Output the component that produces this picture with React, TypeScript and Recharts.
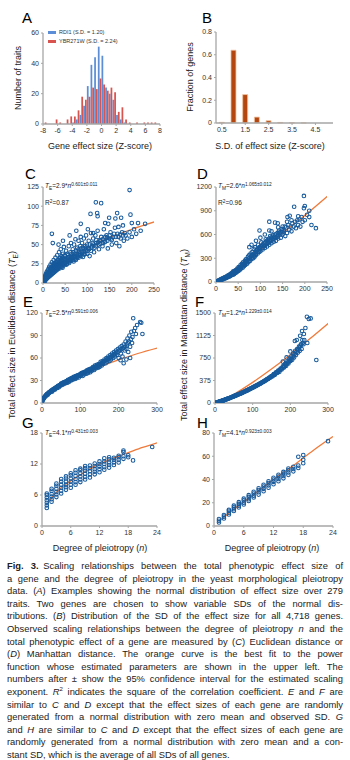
import React from "react";
import {
  BarChart,
  Bar,
  ComposedChart,
  Scatter,
  Line,
  XAxis,
  YAxis,
} from "recharts";

const FONT = '"Liberation Sans", Arial, sans-serif';
const AXIS = "#a6a6a6";
const TEXT = "#333";
const DOT = "#175a9c";
const FIT = "#f07a3a";

// ---- A: effect size histograms (bin centres, counts)
const zCenters = [
  -7.75, -7.25, -6.75, -6.25, -5.75, -5.25, -4.75, -4.25, -3.75, -3.25, -2.75,
  -2.25, -1.75, -1.25, -0.75, -0.25, 0.25, 0.75, 1.25, 1.75, 2.25, 2.75, 3.25,
  3.75, 4.25, 4.75, 5.25, 5.75, 6.25, 6.75, 7.25, 7.75,
];
const rdi1 = [
  0, 0, 0, 0, 0, 0, 0, 0, 1, 3, 6, 12, 25, 39, 44, 51, 45, 24, 20, 16, 6, 3, 1,
  0, 0, 0, 0, 0, 0, 0, 0, 0,
];
const ybr271w = [
  1, 0, 0, 3, 1, 0, 3, 5, 5, 9, 18, 16, 18, 24, 23, 30, 26, 22, 24, 21, 8, 11, 3,
  1, 0, 1, 0, 1, 1, 1, 1, 0,
];
const zTicks = [-8, -6, -4, -2, 0, 2, 4, 6, 8];
const countTicks = [0, 20, 40, 60];

// ---- B: SD distribution
const sdBins = ["0.5", "1", "1.5", "2", "2.5", "3", "3.5", "4", "4.5", "5"];
const sdFraction = [0.006, 0.64, 0.25, 0.052, 0.02, 0.005, 0.002, 0.001, 0, 0];
const fracTicks = [0, 0.2, 0.4, 0.6, 0.8];

// ---- C: observed, Euclidean
const cPts: [number, number][] = [
  [1, 1], [1, 3], [2, 2], [2, 5], [3, 3], [3, 6], [4, 4], [4, 8], [5, 5], [5, 9],
  [6, 6], [6, 11], [7, 7], [7, 12], [8, 8], [8, 14], [9, 7], [9, 12], [10, 9],
  [10, 16], [11, 10], [12, 13], [12, 18], [13, 11], [14, 15], [14, 21], [15, 12],
  [15, 19], [16, 17], [17, 14], [17, 24], [18, 19], [19, 16], [20, 21], [20, 27],
  [21, 13], [22, 24], [23, 18], [24, 30], [25, 22], [26, 16], [27, 26], [28, 33],
  [29, 20], [30, 28], [31, 24], [32, 36], [33, 18], [34, 30], [35, 26], [36, 40],
  [37, 22], [38, 33], [39, 28], [40, 44], [41, 25], [42, 35], [43, 30], [44, 20],
  [45, 38], [46, 32], [47, 47], [48, 27], [49, 36], [50, 30], [52, 42], [53, 24],
  [55, 38], [57, 33], [58, 48], [60, 28], [62, 40], [63, 52], [65, 35], [67, 44],
  [68, 30], [70, 50], [72, 38], [73, 57], [75, 32], [77, 46], [78, 42], [80, 55],
  [82, 36], [84, 48], [85, 60], [87, 41], [88, 52], [90, 34], [92, 58], [94, 45],
  [95, 38], [97, 62], [99, 50], [100, 42], [103, 55], [105, 35], [108, 65],
  [110, 48], [113, 58], [115, 40], [118, 62], [120, 52], [123, 68], [126, 44],
  [128, 56], [131, 60], [134, 48], [137, 70], [140, 54], [143, 62], [146, 45],
  [149, 58], [152, 66], [155, 50], [158, 60], [162, 72], [165, 52], [168, 64],
  [172, 48], [175, 58], [178, 66], [182, 55], [186, 62], [190, 58], [195, 66],
  [200, 60], [205, 70], [210, 64], [220, 68], [195, 121], [119, 105], [131, 104],
  [122, 91], [123, 87], [107, 90], [167, 91], [149, 85], [197, 89], [85, 77],
  [147, 77], [163, 84], [176, 85], [200, 78], [214, 78], [20, 64], [22, 52],
  [101, 70], [113, 65], [170, 73], [60, 62], [75, 68], [45, 55], [35, 50],
  [140, 78], [180, 75], [230, 77],
  [2, 3], [3, 4], [4, 6], [5, 7], [6, 8], [7, 9], [8, 10], [9, 11], [10, 12],
  [11, 13], [12, 11], [13, 14], [14, 12], [15, 16], [16, 14], [17, 18], [18, 15],
  [19, 20], [20, 17], [21, 19], [22, 16], [23, 22], [24, 19], [25, 25], [26, 20],
  [27, 23], [28, 18], [29, 25], [30, 21], [31, 28], [32, 22], [33, 25], [34, 21],
  [35, 30], [36, 24], [37, 28], [38, 24], [39, 32], [40, 27], [42, 30], [43, 25],
  [44, 33], [46, 28], [48, 31], [50, 35], [51, 26], [53, 32], [55, 28], [56, 36],
  [58, 30], [60, 34], [62, 30], [64, 38], [66, 33], [68, 40], [70, 35], [72, 32],
  [74, 42], [76, 37], [78, 34], [80, 44], [82, 40], [84, 36], [86, 45], [88, 38],
  [90, 46], [92, 40], [95, 48], [98, 44], [102, 45], [105, 50], [108, 42],
  [112, 52], [116, 46], [120, 56], [125, 50], [130, 55], [135, 52], [140, 60],
  [145, 55], [150, 62], [155, 56], [160, 64], [170, 60], [180, 62],
  [3, 2], [5, 3], [7, 5], [9, 6], [11, 7], [13, 8], [15, 9], [17, 10], [19, 11],
  [21, 12], [23, 13], [25, 14], [27, 15], [29, 16], [31, 17], [33, 19], [35, 20],
  [37, 19], [39, 21], [41, 22], [43, 21], [45, 24], [47, 23], [49, 25], [52, 27],
  [54, 25], [57, 28], [59, 26], [61, 31], [64, 29], [67, 32], [69, 28], [71, 34],
  [74, 30], [77, 35], [80, 33], [83, 38], [86, 35], [89, 40], [93, 37], [96, 42],
  [100, 38], [104, 44], [109, 46], [114, 50], [119, 48], [124, 53], [129, 51],
  [134, 57], [139, 53], [144, 59], [154, 58], [164, 60], [174, 63], [184, 65],
];
const cFit: [number, number][] = [
  [1, 3], [3, 5.8], [6, 8.9], [10, 11.5], [20, 17.4], [35, 24.4], [50, 30],
  [75, 38], [100, 46], [150, 59], [200, 70], [253, 80],
];

// ---- D: observed, Manhattan
const dPts: [number, number][] = [
  [2, 5], [3, 8], [5, 12], [6, 18], [8, 20], [9, 26], [10, 28], [12, 30],
  [13, 38], [15, 36], [16, 46], [18, 42], [19, 55], [20, 48], [22, 60], [23, 52],
  [25, 70], [26, 62], [28, 80], [29, 68], [30, 88], [32, 75], [33, 100], [35, 85],
  [36, 110], [38, 92], [40, 125], [41, 100], [42, 140], [44, 115], [45, 150],
  [47, 125], [48, 170], [50, 140], [51, 190], [53, 150], [55, 210], [56, 170],
  [58, 230], [60, 180], [61, 250], [63, 200], [65, 270], [66, 215], [68, 290],
  [70, 230], [72, 320], [73, 250], [75, 340], [77, 270], [78, 360], [80, 290],
  [82, 380], [84, 300], [85, 420], [87, 320], [88, 440], [90, 340], [92, 400],
  [94, 360], [95, 470], [97, 380], [99, 430], [100, 390], [102, 500], [105, 410],
  [107, 460], [110, 430], [112, 540], [115, 450], [118, 500], [120, 470],
  [122, 580], [125, 490], [128, 540], [130, 510], [133, 600], [135, 520],
  [138, 570], [140, 550], [143, 620], [146, 560], [150, 600], [153, 640],
  [156, 580], [160, 620], [165, 660], [170, 640], [175, 700], [180, 680],
  [185, 720], [190, 700], [195, 760], [200, 780], [210, 820], [198, 1087],
  [198, 933], [176, 950], [200, 960], [166, 837], [161, 820], [120, 762],
  [133, 750], [139, 741], [120, 650], [98, 650], [110, 600], [125, 640],
  [100, 560], [90, 520], [80, 470], [75, 440], [140, 690], [150, 700],
  [160, 760], [170, 780], [185, 830], [215, 720], [225, 680], [210, 900],
  [5, 15], [8, 25], [11, 33], [14, 42], [17, 50], [20, 58], [24, 72], [27, 82],
  [31, 95], [34, 105], [37, 118], [39, 135], [43, 128], [46, 140], [49, 160],
  [52, 170], [54, 185], [57, 195], [59, 210], [62, 225], [64, 240], [67, 255],
  [69, 265], [71, 280], [74, 295], [76, 305], [79, 320], [81, 335], [83, 345],
  [86, 360], [89, 380], [91, 395], [93, 410], [96, 420], [98, 440], [101, 450],
  [104, 460], [106, 480], [109, 490], [111, 500], [114, 520], [117, 530],
  [119, 545], [121, 520], [124, 560], [127, 570], [129, 590], [132, 570],
  [136, 610], [139, 620], [142, 650], [145, 630], [148, 670], [152, 660],
  [155, 700], [158, 690], [163, 720], [168, 700], [172, 740], [178, 760],
  [183, 780], [188, 790], [193, 820], [205, 850],
  [10, 22], [15, 32], [20, 45], [25, 58], [30, 72], [35, 90], [40, 108],
  [45, 125], [50, 150], [55, 165], [60, 195], [65, 220], [70, 250], [75, 270],
  [80, 300], [85, 330], [90, 355], [95, 385], [100, 410], [105, 430], [110, 455],
  [115, 480], [120, 500], [125, 520], [130, 550], [135, 560], [140, 590],
  [145, 600], [150, 630],
];
const dFit: [number, number][] = [
  [0, 0], [10, 30], [25, 90], [50, 192], [100, 404], [150, 620], [200, 840],
  [252, 1087],
];

// ---- E: simulated (observed SD), Euclidean
const ePts: [number, number][] = [
  [1, 2.5], [2, 4], [3, 5], [4, 6], [5, 6.5], [6, 7.5], [7, 8], [8, 9], [9, 9],
  [10, 10], [12, 10], [13, 12], [15, 11], [16, 13], [18, 13], [20, 14], [22, 15],
  [24, 16], [26, 15], [28, 18], [30, 17], [32, 19], [34, 18], [36, 20], [38, 21],
  [40, 20], [42, 23], [44, 21], [46, 24], [48, 23], [50, 26], [52, 24], [54, 27],
  [56, 25], [58, 28], [60, 26], [63, 29], [66, 27], [68, 31], [70, 28], [73, 32],
  [76, 30], [78, 33], [80, 31], [83, 35], [86, 32], [88, 36], [90, 33], [93, 37],
  [96, 34], [98, 38], [100, 36], [103, 40], [106, 36], [108, 41], [110, 38],
  [113, 42], [116, 39], [118, 44], [120, 40], [123, 45], [126, 41], [128, 46],
  [130, 43], [133, 48], [136, 44], [138, 50], [140, 46], [143, 51], [146, 47],
  [148, 52], [150, 48], [153, 55], [156, 50], [158, 56], [160, 52], [163, 58],
  [166, 53], [168, 60], [170, 55], [173, 62], [176, 56], [178, 64], [180, 58],
  [183, 66], [186, 60], [188, 68], [190, 62], [193, 70], [196, 64], [198, 72],
  [200, 60], [203, 74], [206, 66], [208, 76], [210, 62], [213, 78], [216, 70],
  [218, 82], [220, 72], [223, 86], [225, 68], [228, 90], [230, 75], [233, 95],
  [235, 80], [238, 113], [240, 96], [243, 100], [245, 92], [248, 104],
  [256, 108], [259, 107], [262, 92], [213, 53], [205, 57], [220, 58], [230, 60],
  [11, 11], [14, 12], [17, 13.5], [19, 14.5], [21, 15], [23, 16], [25, 17],
  [27, 17], [29, 18], [31, 18.5], [33, 19.5], [35, 20], [37, 21], [39, 21.5],
  [41, 22], [43, 22.5], [45, 23], [47, 24], [49, 25], [51, 25.5], [53, 26],
  [55, 26.5], [57, 27], [59, 27.5], [61, 28], [62, 27], [64, 29], [65, 28.5],
  [67, 30], [69, 30], [71, 31], [72, 30], [74, 31.5], [75, 32.5], [77, 32],
  [79, 33.5], [81, 33], [82, 34], [84, 34], [85, 33], [87, 35], [89, 35],
  [91, 36], [92, 35], [94, 36.5], [95, 37], [97, 37], [99, 38], [101, 38],
  [102, 37], [104, 39], [105, 40], [107, 39.5], [109, 40], [111, 41], [112, 40],
  [114, 41.5], [115, 42], [117, 42], [119, 43], [121, 43], [122, 42], [124, 44],
  [125, 45], [127, 44], [129, 45], [131, 46], [132, 45], [134, 47], [135, 46],
  [137, 48], [139, 47], [141, 49], [142, 48], [144, 50], [145, 49], [147, 50],
  [149, 51], [151, 52], [152, 50], [154, 53], [157, 53], [159, 54], [161, 55],
  [164, 56], [167, 57], [169, 58], [171, 59], [174, 58], [177, 60], [179, 61],
  [181, 62], [184, 62], [187, 64], [189, 65], [191, 66], [194, 66], [197, 68],
  [201, 70], [204, 70], [207, 72], [211, 73], [214, 74], [217, 75], [221, 78],
  [224, 80], [227, 82], [232, 85], [236, 88],
];
const eFit: [number, number][] = [
  [1, 2.5], [3, 4.6], [6, 7], [10, 9.7], [20, 14.7], [35, 20.4], [50, 25.3],
  [75, 32], [100, 38], [150, 48.5], [200, 57.6], [250, 66], [302, 73.5],
];

// ---- F: simulated (observed SD), Manhattan
const fPts: [number, number][] = [
  [2, 3], [4, 6], [6, 10], [8, 13], [10, 18], [12, 22], [14, 28], [16, 30],
  [18, 36], [20, 40], [22, 42], [24, 50], [26, 52], [28, 60], [30, 62], [33, 70],
  [36, 76], [39, 84], [42, 90], [45, 100], [48, 105], [51, 114], [54, 122],
  [57, 128], [60, 140], [63, 145], [66, 155], [69, 160], [72, 172], [75, 178],
  [78, 190], [81, 196], [84, 208], [87, 214], [90, 228], [93, 232], [96, 245],
  [99, 252], [102, 265], [105, 270], [108, 285], [111, 290], [114, 305],
  [117, 312], [120, 325], [123, 332], [126, 348], [129, 355], [132, 370],
  [135, 378], [138, 395], [141, 400], [144, 420], [147, 425], [150, 450],
  [153, 445], [156, 480], [159, 470], [162, 510], [165, 500], [168, 540],
  [171, 520], [174, 575], [177, 560], [180, 610], [183, 590], [186, 650],
  [189, 620], [192, 690], [195, 660], [198, 740], [200, 700], [203, 780],
  [205, 720], [208, 830], [210, 760], [213, 870], [215, 800], [218, 900],
  [220, 840], [223, 940], [225, 870], [228, 980], [232, 1050], [244, 1438],
  [249, 1400], [254, 1410], [269, 717], [212, 1033], [217, 1050], [231, 1200],
  [226, 1120], [236, 1150], [240, 1250], [200, 860], [190, 760], [180, 690],
  [230, 900], [235, 980], [245, 1000],
  [3, 4], [5, 8], [7, 11], [9, 15], [11, 20], [13, 24], [15, 28], [17, 33],
  [19, 38], [21, 40], [23, 45], [25, 50], [27, 55], [29, 58], [31, 65], [34, 72],
  [37, 78], [40, 86], [43, 95], [46, 102], [49, 110], [52, 118], [55, 124],
  [58, 133], [61, 140], [64, 150], [67, 156], [70, 166], [73, 174], [76, 184],
  [79, 192], [82, 202], [85, 210], [88, 220], [91, 230], [94, 240], [97, 248],
  [100, 258], [103, 268], [106, 280], [109, 286], [112, 298], [115, 308],
  [118, 318], [121, 328], [124, 340], [127, 350], [130, 362], [133, 374],
  [136, 385], [139, 398], [142, 410], [145, 422], [148, 436], [151, 450],
  [154, 462], [157, 476], [160, 490], [163, 505], [166, 520], [169, 535],
  [172, 550], [175, 565], [178, 580], [181, 600], [184, 615], [187, 635],
  [190, 650], [193, 670], [196, 690], [199, 710], [202, 735], [206, 760],
  [209, 790], [212, 820], [216, 850], [219, 880], [222, 905], [226, 940],
  [229, 970], [233, 1000], [237, 1050],
];
const fFit: [number, number][] = [
  [0, 0], [10, 20], [25, 62], [50, 146], [100, 344], [150, 566], [200, 806],
  [250, 1061], [303, 1340],
];

// ---- G / H: simulated (constant SD), columns by degree of pleiotropy
const gCols: [number, number[]][] = [
  [1, [3.5, 4, 4.5, 5, 5.5, 6, 6.3]],
  [2, [4.7, 5.2, 5.7, 6.2, 6.8, 7.2]],
  [3, [5.6, 6.1, 6.6, 7.2, 7.8, 8.2]],
  [4, [6.3, 6.8, 7.4, 8, 8.6, 9.1]],
  [5, [7, 7.5, 8, 8.6, 9.2, 9.6]],
  [6, [7.4, 8, 8.6, 9.2, 9.8, 10.2]],
  [7, [8, 8.5, 9.1, 9.7, 10.3, 10.8]],
  [8, [8.5, 9, 9.6, 10.2, 10.8, 11.1]],
  [9, [9, 9.5, 10.1, 10.7, 11.2, 11.6]],
  [10, [9.4, 10, 10.6, 11.2, 11.7]],
  [11, [10, 10.5, 11, 11.6, 12.1]],
  [12, [10.4, 11, 11.5, 12, 12.5]],
  [13, [10.9, 11.4, 12, 12.5, 13.1]],
  [14, [11.3, 11.8, 12.3, 12.9, 13.3]],
  [15, [11.8, 12.3, 12.8, 13.2]],
  [16, [12.3, 12.8, 13.3, 13.6]],
  [17, [13, 13.5, 14.3, 14.6]],
  [18, [13.3, 13.7]],
  [19, [12.7]],
  [23, [15.3]],
];
const gFit: [number, number][] = [
  [1, 4.1], [2, 5.5], [3, 6.5], [4, 7.4], [6, 8.7], [8, 9.9], [10, 11.1],
  [12, 12], [15, 13.2], [18, 14.2], [21, 15.2], [24, 16.1],
];
const hCols: [number, number[]][] = [
  [1, [3, 4.5, 6]],
  [2, [6.5, 8, 9.5]],
  [3, [10, 11.5, 13, 14]],
  [4, [13, 14.5, 16, 17.5]],
  [5, [16, 17.5, 19, 20.5]],
  [6, [18.5, 20, 22, 23.5]],
  [7, [21.5, 23, 25, 26.5]],
  [8, [24.5, 26, 28, 29.5]],
  [9, [27, 29, 31, 32.5]],
  [10, [30, 32, 34, 35.5]],
  [11, [33, 35, 37, 38.5]],
  [12, [36, 38, 40, 41.5]],
  [13, [38.5, 40.5, 42.5, 44]],
  [14, [41, 43, 45, 46.5]],
  [15, [44, 46, 48, 49.5]],
  [16, [47, 49, 51]],
  [17, [50, 52, 59.6]],
  [18, [54, 57, 61]],
  [23, [73]],
];
const hFit: [number, number][] = [
  [1, 4.1], [4, 14.4], [8, 27], [12, 40], [16, 52], [20, 65], [24, 77],
];

const toPts = (a: [number, number][]) => a.map(([n, t]) => ({ n, t }));
const fromCols = (c: [number, number[]][]) =>
  c.flatMap(([n, vals]) => vals.map((t) => ({ n, t })));

const histData = zCenters.map((x, i) => ({ x, rdi1: rdi1[i], ybr: ybr271w[i] }));
const sdData = sdBins.map((sd, i) => ({ sd, frac: sdFraction[i] }));

type Box = { l: number; r: number; t: number; b: number };
const YW = 30;
const XH = 14;
const PAD = 6;

function place(box: Box) {
  return {
    style: { position: "absolute" as const, left: box.l - YW, top: box.t - PAD },
    width: box.r - box.l + YW + PAD,
    height: box.b - box.t + PAD + XH,
    margin: { top: PAD, right: PAD, bottom: 0, left: 0 },
  };
}

const tickStyle = { fontSize: 7, fill: TEXT, fontFamily: FONT };
const axisProps = {
  axisLine: { stroke: AXIS, strokeWidth: 1.3 },
  tickLine: { stroke: AXIS },
  tickSize: 2,
  tick: tickStyle,
};

const Ring = (p: any) => (
  <circle cx={p.cx} cy={p.cy} r={1.8} fill="none" stroke={DOT} strokeWidth={1.05} />
);

function ScatterPanel(props: {
  box: Box;
  pts: { n: number; t: number }[];
  fit: { n: number; t: number }[];
  xMax: number;
  xTicks: number[];
  yMax: number;
  yTicks: number[];
}) {
  const p = place(props.box);
  return (
    <div style={p.style}>
      <ComposedChart width={p.width} height={p.height} margin={p.margin}>
        <XAxis
          type="number"
          dataKey="n"
          domain={[0, props.xMax]}
          ticks={props.xTicks}
          allowDataOverflow
          height={XH}
          {...axisProps}
        />
        <YAxis
          type="number"
          dataKey="t"
          domain={[0, props.yMax]}
          ticks={props.yTicks}
          allowDataOverflow
          width={YW}
          {...axisProps}
        />
        <Scatter data={props.pts} dataKey="t" shape={Ring} isAnimationActive={false} />
        <Line
          data={props.fit}
          dataKey="t"
          type="monotone"
          stroke={FIT}
          strokeWidth={1.3}
          dot={false}
          activeDot={false}
          isAnimationActive={false}
        />
      </ComposedChart>
    </div>
  );
}

const abs = (left: number, top: number, extra: React.CSSProperties = {}) =>
  ({ position: "absolute", left, top, fontFamily: FONT, ...extra }) as React.CSSProperties;

function PanelLetter({ ch, x, y }: { ch: string; x: number; y: number }) {
  return <div style={abs(x, y - 2, { fontSize: 15, lineHeight: "15px", color: "#000" })}>{ch}</div>;
}

function Title({ x, y, rot, children }: { x: number; y: number; rot?: boolean; children: React.ReactNode }) {
  return (
    <div
      style={abs(x, y, {
        fontSize: 9,
        lineHeight: "10px",
        color: "#222",
        whiteSpace: "nowrap",
        transform: `translate(-50%, -50%)${rot ? " rotate(-90deg)" : ""}`,
      })}
    >
      {children}
    </div>
  );
}

function FitNote({ x, y, sub, coef, exp, r2 }: { x: number; y: number; sub: string; coef: string; exp: string; r2?: string }) {
  return (
    <>
      <div style={abs(x, y - 4, { fontSize: 6.5, lineHeight: "8px", color: "#222", whiteSpace: "nowrap" })}>
        <i>T</i>
        <span style={{ fontSize: 4.8, position: "relative", top: 1.5 }}>{sub}</span>={coef}*<i>n</i>
        <span style={{ fontSize: 4.8, position: "relative", top: -2.2 }}>{exp}</span>
      </div>
      {r2 && (
        <div style={abs(x, y + 13, { fontSize: 6.5, lineHeight: "8px", color: "#222", whiteSpace: "nowrap" })}>
          R<span style={{ fontSize: 4.8, position: "relative", top: -2.2 }}>2</span>={r2}
        </div>
      )}
    </>
  );
}

const captionLines: React.ReactNode[] = [
  <><b>Fig. 3.</b>{"\u2002"}Scaling relationships between the total phenotypic effect size of</>,
  <>a gene and the degree of pleiotropy in the yeast morphological pleiotropy</>,
  <>data. (<i>A</i>) Examples showing the normal distribution of effect size over 279</>,
  <>traits. Two genes are chosen to show variable SDs of the normal dis-</>,
  <>tributions. (<i>B</i>) Distribution of the SD of the effect size for all 4,718 genes.</>,
  <>Observed scaling relationships between the degree of pleiotropy <i>n</i> and the</>,
  <>total phenotypic effect of a gene are measured by (<i>C</i>) Euclidean distance or</>,
  <>(<i>D</i>) Manhattan distance. The orange curve is the best fit to the power</>,
  <>function whose estimated parameters are shown in the upper left. The</>,
  <>numbers after ± show the 95% confidence interval for the estimated scaling</>,
  <>exponent. <i>R</i><sup style={{ fontSize: 6, lineHeight: 0 }}>2</sup> indicates the square of the correlation coefficient. <i>E</i> and <i>F</i> are</>,
  <>similar to <i>C</i> and <i>D</i> except that the effect sizes of each gene are randomly</>,
  <>generated from a normal distribution with zero mean and observed SD. <i>G</i></>,
  <>and <i>H</i> are similar to <i>C</i> and <i>D</i> except that the effect sizes of each gene are</>,
  <>randomly generated from a normal distribution with zero mean and a con-</>,
  <>stant SD, which is the average of all SDs of all genes.</>,
];

export default function App() {
  const boxA: Box = { l: 43, r: 160, t: 33, b: 124 };
  const boxB: Box = { l: 216, r: 333, t: 32, b: 123 };
  const pA = place(boxA);
  const pB = place(boxB);

  return (
    <div
      style={{
        position: "absolute",
        left: 0,
        top: 0,
        width: 350,
        height: 760,
        background: "#fff",
        overflow: "hidden",
        fontFamily: FONT,
      }}
    >
      {/* A */}
      <div style={pA.style}>
        <BarChart width={pA.width} height={pA.height} margin={pA.margin} data={histData} barGap={0}>
          <XAxis type="number" dataKey="x" domain={[-8, 8]} ticks={zTicks} height={XH} {...axisProps} />
          <YAxis domain={[0, 60]} ticks={countTicks} width={YW} {...axisProps} />
          <Bar dataKey="rdi1" fill="#5b8ed6" barSize={1.75} isAnimationActive={false} />
          <Bar dataKey="ybr" fill="#d9534f" barSize={1.75} isAnimationActive={false} />
        </BarChart>
      </div>
      <div style={abs(48, 31, { width: 8, height: 3, background: "#5b8ed6" })} />
      <div style={abs(48, 40, { width: 8, height: 3, background: "#d9534f" })} />
      <div style={abs(59, 29, { fontSize: 5.5, lineHeight: "7px", color: TEXT, whiteSpace: "nowrap" })}>
        RDI1 (S.D. = 1.20)
      </div>
      <div style={abs(59, 38, { fontSize: 5.5, lineHeight: "7px", color: TEXT, whiteSpace: "nowrap" })}>
        YBR271W (S.D. = 2.24)
      </div>

      {/* B */}
      <div style={pB.style}>
        <BarChart width={pB.width} height={pB.height} margin={pB.margin} data={sdData} barCategoryGap="28%">
          <XAxis dataKey="sd" interval={1} height={XH} {...axisProps} />
          <YAxis domain={[0, 0.8]} ticks={fracTicks} width={YW} {...axisProps} />
          <Bar dataKey="frac" fill="#b3470f" stroke="#f2c4a2" strokeWidth={0.8} isAnimationActive={false} />
        </BarChart>
      </div>

      <ScatterPanel box={{ l: 43, r: 154, t: 187, b: 283 }} pts={toPts(cPts)} fit={toPts(cFit)}
        xMax={250} xTicks={[0, 50, 100, 150, 200, 250]} yMax={125} yTicks={[0, 25, 50, 75, 100, 125]} />
      <ScatterPanel box={{ l: 216, r: 327, t: 187, b: 282 }} pts={toPts(dPts)} fit={toPts(dFit)}
        xMax={250} xTicks={[0, 50, 100, 150, 200, 250]} yMax={1200} yTicks={[0, 300, 600, 900, 1200]} />
      <ScatterPanel box={{ l: 42, r: 157, t: 313, b: 403 }} pts={toPts(ePts)} fit={toPts(eFit)}
        xMax={300} xTicks={[0, 100, 200, 300]} yMax={120} yTicks={[0, 30, 60, 90, 120]} />
      <ScatterPanel box={{ l: 215, r: 328, t: 313, b: 403 }} pts={toPts(fPts)} fit={toPts(fFit)}
        xMax={300} xTicks={[0, 100, 200, 300]} yMax={1500} yTicks={[0, 375, 750, 1125, 1500]} />
      <ScatterPanel box={{ l: 42, r: 157, t: 433, b: 526 }} pts={fromCols(gCols)} fit={toPts(gFit)}
        xMax={24} xTicks={[0, 6, 12, 18, 24]} yMax={18} yTicks={[0, 6, 12, 18]} />
      <ScatterPanel box={{ l: 214, r: 333, t: 433, b: 526 }} pts={fromCols(hCols)} fit={toPts(hFit)}
        xMax={24} xTicks={[0, 6, 12, 18, 24]} yMax={80} yTicks={[0, 20, 40, 60, 80]} />

      <FitNote x={45} y={186} sub="E" coef="2.9" exp="0.601±0.011" r2="0.87" />
      <FitNote x={218} y={186} sub="M" coef="2.6" exp="1.065±0.012" r2="0.96" />
      <FitNote x={45} y={313} sub="E" coef="2.5" exp="0.591±0.006" />
      <FitNote x={218} y={313} sub="M" coef="1.2" exp="1.229±0.014" />
      <FitNote x={45} y={433} sub="E" coef="4.1" exp="0.431±0.003" />
      <FitNote x={218} y={433} sub="M" coef="4.1" exp="0.923±0.003" />

      <PanelLetter ch="A" x={22} y={12} />
      <PanelLetter ch="B" x={202} y={12} />
      <PanelLetter ch="C" x={25} y={168} />
      <PanelLetter ch="D" x={197} y={168} />
      <PanelLetter ch="E" x={23} y={296} />
      <PanelLetter ch="F" x={195} y={296} />
      <PanelLetter ch="G" x={22} y={417} />
      <PanelLetter ch="H" x={197} y={417} />

      <Title x={100} y={146}>Gene effect size (Z-score)</Title>
      <Title x={270} y={146}>S.D. of effect size (Z-score)</Title>
      <Title x={18} y={78} rot>Number of traits</Title>
      <Title x={190} y={77} rot>Fraction of genes</Title>
      <Title x={12} y={335} rot>
        Total effect size in Euclidean distance (<i>T</i><sub style={{ fontSize: 6.5, lineHeight: 0 }}>E</sub>)
      </Title>
      <Title x={184} y={335} rot>
        Total effect size in Manhattan distance (<i>T</i><sub style={{ fontSize: 6.5, lineHeight: 0 }}>M</sub>)
      </Title>
      <Title x={100} y={548}>Degree of pleiotropy (<i>n</i>)</Title>
      <Title x={272} y={548}>Degree of pleiotropy (<i>n</i>)</Title>

      <div style={abs(7, 560, { width: 336, fontSize: 9.4, color: "#222" })}>
        {captionLines.map((ln, i) => (
          <div
            key={i}
            style={{
              height: 12.6,
              lineHeight: "12.6px",
              textAlign: "justify",
              textAlignLast: i === captionLines.length - 1 ? "left" : "justify",
            }}
          >
            {ln}
          </div>
        ))}
      </div>
    </div>
  );
}
